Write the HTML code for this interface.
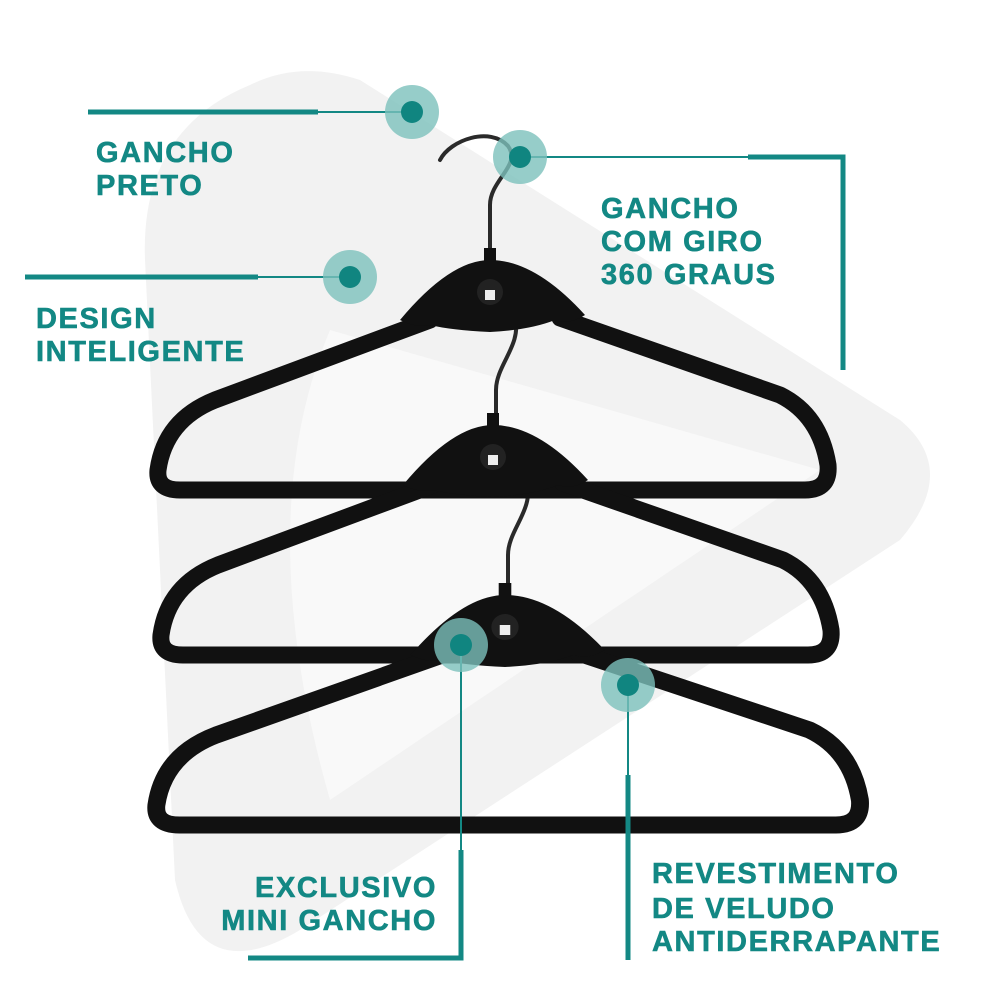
<!DOCTYPE html>
<html><head><meta charset="utf-8"><style>
html,body{margin:0;padding:0;background:#fff;}
svg{display:block}
text{font-family:"Liberation Sans",sans-serif;font-weight:bold;fill:#138884;font-size:29px;letter-spacing:1.6px;stroke:#138884;stroke-width:0.6px}
</style></head><body>
<svg width="1000" height="1000" viewBox="0 0 1000 1000">
<path d="M250 85 Q300 60 360 80 L900 420 Q960 470 900 540 L300 930 Q200 990 175 880 L145 260 Q140 130 250 85Z" fill="#f2f2f2"/>
<path d="M330 330 L820 470 L330 800 Q250 520 330 330Z" fill="#fafafa" opacity="0.8"/>
<defs>
<g id="h">
<path d="M-60 50 L-275 130 Q-325 150 -332 200 Q-334 220 -310 220 L315 220 Q340 220 338 195 Q330 145 290 125 L70 48" fill="none" stroke="#111" stroke-width="17" stroke-linejoin="round" stroke-linecap="round"/>
<path d="M-90 50 Q-40 -10 0 -10 Q45 -10 95 45 Q80 55 65 50 Q40 60 0 62 Q-40 60 -60 55 Q-75 58 -90 50Z" fill="#111"/>
<rect x="-6" y="-22" width="12" height="16" fill="#111"/>
<circle cx="0" cy="22" r="13" fill="#222"/>
<rect x="-5" y="20" width="10" height="10" fill="#eee"/>
</g>
</defs>
<g fill="none" stroke="#2a2a2a" stroke-width="4" stroke-linecap="round">
<path d="M440 160 C450 140 490 126 508 146 C522 165 490 180 490 205 L490 265"/>
<path d="M462 318 C475 300 505 298 515 318 C522 345 496 365 496 390 L496 425"/>
<path d="M474 482 C487 464 517 462 527 482 C534 510 508 530 508 555 L508 590"/>
</g>
<use href="#h" x="490" y="270"/>
<use href="#h" x="493" y="435"/>
<g transform="translate(505,605) scale(1.05,1)"><use href="#h"/></g>
<g stroke="#138884" fill="none">
<path d="M88 112 L318 112" stroke-width="5"/><path d="M318 112 L410 112" stroke-width="2"/>
<path d="M520 157 L748 157" stroke-width="2"/><path d="M748 157 L843 157 L843 370" stroke-width="5"/>
<path d="M25 277 L258 277" stroke-width="5"/><path d="M258 277 L350 277" stroke-width="2"/>
<path d="M461 645 L461 850" stroke-width="2"/><path d="M461 850 L461 958 L248 958" stroke-width="5"/>
<path d="M628 685 L628 775" stroke-width="2"/><path d="M628 775 L628 960" stroke-width="5"/>
</g>
<g>
<circle cx="412" cy="112" r="27" fill="#7cc0bc" opacity="0.8"/><circle cx="412" cy="112" r="11" fill="#108580"/>
<circle cx="520" cy="157" r="27" fill="#7cc0bc" opacity="0.8"/><circle cx="520" cy="157" r="11" fill="#108580"/>
<circle cx="350" cy="277" r="27" fill="#7cc0bc" opacity="0.8"/><circle cx="350" cy="277" r="11" fill="#108580"/>
<circle cx="461" cy="645" r="27" fill="#7cc0bc" opacity="0.8"/><circle cx="461" cy="645" r="11" fill="#108580"/>
<circle cx="628" cy="685" r="27" fill="#7cc0bc" opacity="0.8"/><circle cx="628" cy="685" r="11" fill="#108580"/>
</g>
<text x="96" y="162">GANCHO</text><text x="96" y="195">PRETO</text>
<text x="601" y="218">GANCHO</text><text x="601" y="251">COM GIRO</text><text x="601" y="284">360 GRAUS</text>
<text x="36" y="328">DESIGN</text><text x="36" y="361">INTELIGENTE</text>
<text x="437" y="897" text-anchor="end">EXCLUSIVO</text><text x="437" y="930" text-anchor="end">MINI GANCHO</text>
<text x="652" y="883">REVESTIMENTO</text><text x="652" y="918">DE VELUDO</text><text x="652" y="951">ANTIDERRAPANTE</text>
</svg>
</body></html>
